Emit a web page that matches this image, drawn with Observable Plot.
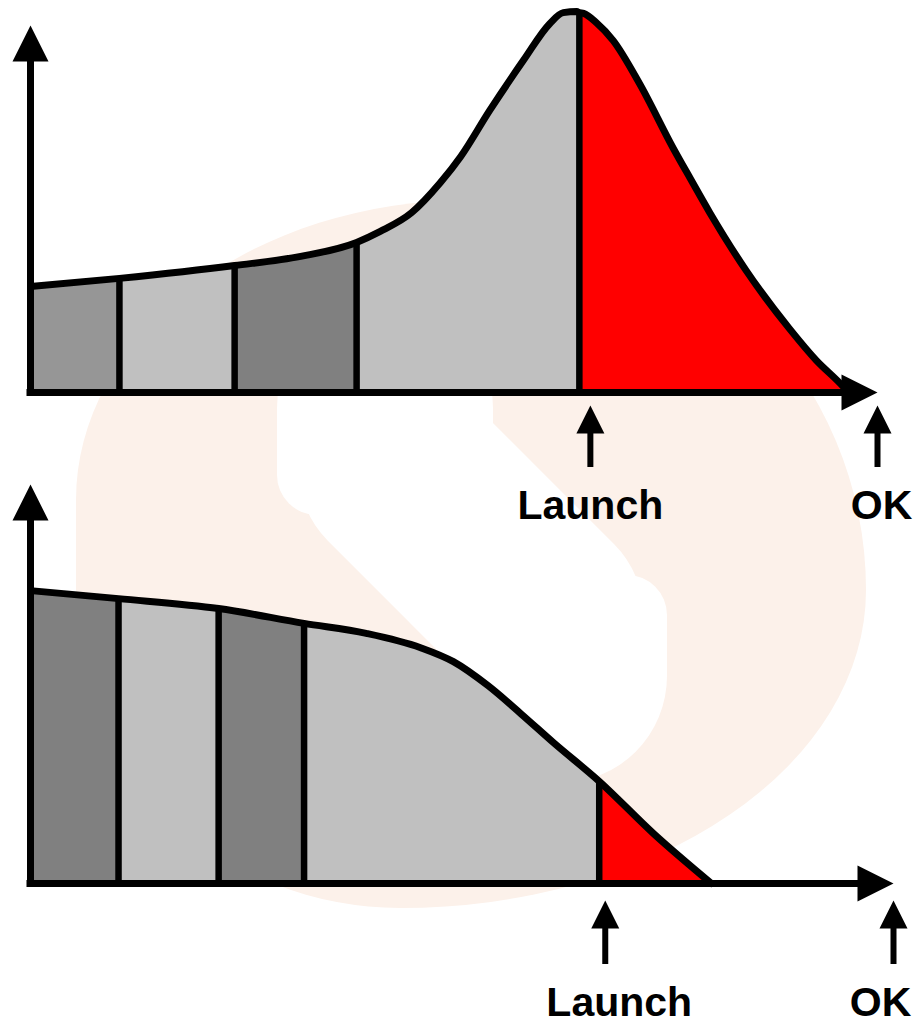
<!DOCTYPE html>
<html>
<head>
<meta charset="utf-8">
<script src="https://cdn.jsdelivr.net/npm/d3@7"></script>
<script src="https://cdn.jsdelivr.net/npm/@observablehq/plot@0.6"></script>
<style>
  html, body { margin: 0; padding: 0; background: #ffffff; overflow: hidden; }
  #wrap { position: relative; width: 916px; height: 1023px; overflow: hidden; }
  #wrap svg { position: absolute; left: 0; top: 0; }
  /* faint background watermark (decoration only) */
  .wm { position: absolute; }
  .wm-disc { left: 76px; top: 200px; width: 790px; height: 708px; background: #fcf1ea;
    border-radius: 394px 396px 466px 324px / 300px 390px 318px 308px; }
  .wm-gap { background: #ffffff; }
  .wm-gap1 { left: 277px; top: 300px; width: 216px; height: 215px; border-radius: 108px 108px 0 40px; }
  .wm-gap2 { left: 371px; top: 340px; width: 200px; height: 405px; border-radius: 100px; transform: rotate(-45deg); }
  .wm-gap3 { left: 453px; top: 575px; width: 214px; height: 208px; border-radius: 0 40px 107px 107px; }
</style>
</head>
<body>
<div id="wrap">
  <div class="wm wm-disc"></div>
  <div class="wm wm-gap wm-gap1"></div>
  <div class="wm wm-gap wm-gap2"></div>
  <div class="wm wm-gap wm-gap3"></div>
</div>
<script>
// ---------- Top chart: effort over time (peaks at launch) ----------
const topX = [0, 10.5, 24.1, 31.9, 38.5, 41.3, 45.0, 48.4, 50.8, 54.2, 58.2, 61.3, 62.9, 64.5, 64.8, 65.3, 66.8, 68.8, 71.9, 75.9, 77.9, 80.2, 84.5, 89.6, 92.8, 95.5, 96.6];
const topY = [28.9, 31.1, 34.6, 37.1, 40.9, 43.9, 49.0, 57.2, 64.3, 76.8, 90.5, 100.5, 103.5, 103.8, 103.5, 103.3, 100.8, 95.9, 84.2, 66.5, 58.3, 49.0, 33.2, 17.4, 8.7, 2.7, 0];
const topBreaks = [10.5, 24.1, 38.5, 64.8];
const topFills = ["#969696", "#c0c0c0", "#808080", "#c0c0c0", "#ff0000"];
const topMarkerX = [66.1, 100];
const topLabels = ["Launch", "OK"];

// ---------- Bottom chart: effort front-loaded ----------
const botX = [0, 10.2, 21.8, 31.7, 38.9, 45.2, 49.0, 53.0, 56.8, 60.6, 65.9, 72.2, 78.9];
const botY = [73.4, 71.4, 68.9, 65.2, 62.7, 59.1, 55.6, 49.6, 42.6, 35.3, 25.6, 12.5, 0];
const botBreaks = [10.2, 21.8, 31.7, 65.9];
const botFills = ["#808080", "#c0c0c0", "#808080", "#c0c0c0", "#ff0000"];
const botMarkerX = [66.6, 100];
const botLabels = ["Launch", "OK"];

// ---------- helpers ----------
function segmentRows(xs, ys, breaks, fills) {
  const edges = [xs[0], ...breaks, xs[xs.length - 1]];
  const out = [];
  for (let s = 0; s < fills.length; s++) {
    const a = edges[s], b = edges[s + 1];
    xs.forEach((x, i) => { if (x >= a && x <= b) out.push({x, y: ys[i], seg: s, fill: fills[s]}); });
  }
  return out;
}
// arrow heads with the tip at the anchor point
const headUp = {draw(c, size) { const h = Math.sqrt(size / Math.PI); c.moveTo(0, 0); c.lineTo(h / 2, h); c.lineTo(-h / 2, h); c.closePath(); }};
const headRight = {draw(c, size) { const h = Math.sqrt(size / Math.PI); c.moveTo(0, 0); c.lineTo(-h, h / 2); c.lineTo(-h, -h / 2); c.closePath(); }};
const FONT = "'Liberation Sans', Arial, Helvetica, sans-serif";

function chart(o) {
  const curve = o.xs.map((x, i) => ({x, y: o.ys[i]}));
  const lookup = (b) => o.ys[o.xs.indexOf(b)];
  const markers = o.markerX.map((x, i) => ({x, label: o.labels[i]}));
  return Plot.plot({
    width: 916, height: 1023,
    marginLeft: 30, marginRight: o.mr, marginTop: o.mt, marginBottom: o.mb,
    x: {domain: [0, 100], axis: null},
    y: {domain: [0, 100], axis: null},
    color: {type: "identity"},
    style: "background:transparent;overflow:visible;",
    marks: [
      Plot.area(segmentRows(o.xs, o.ys, o.breaks, o.fills), {x1: "x", y1: () => 0, y2: "y", z: "seg", fill: "fill", curve: "monotone-x"}),
      Plot.ruleX(o.breaks, {x: (d) => d, y1: () => 0, y2: lookup, stroke: "#000", strokeWidth: 6.5}),
      Plot.line(curve, {x: "x", y: "y", curve: "monotone-x", stroke: "#000", strokeWidth: 7, strokeLinejoin: "round", strokeLinecap: "round"}),
      // axes with arrow heads
      Plot.ruleX([0], {x: (d) => d, y1: () => 100, y2: () => 0, insetTop: 12, stroke: "#000", strokeWidth: 7, strokeLinecap: "square"}),
      Plot.ruleY([0], {y: (d) => d, x1: () => 0, x2: () => 100, insetRight: 12, stroke: "#000", strokeWidth: 7, strokeLinecap: "square"}),
      Plot.dot([0], {x: (d) => d, y: () => 100, symbol: headUp, r: 36, fill: "#000", stroke: "none"}),
      Plot.dot([0], {x: () => 100, y: (d) => d, symbol: headRight, r: 36, fill: "#000", stroke: "none"}),
      // milestone arrows
      Plot.ruleX(markers, {x: "x", y1: () => 0, y2: () => 0, insetTop: o.tip + 20, insetBottom: -o.stem, stroke: "#000", strokeWidth: 6}),
      Plot.dot(markers, {x: "x", y: () => 0, dy: o.tip, symbol: headUp, r: 28, fill: "#000", stroke: "none"}),
      ...markers.map((m, i) => Plot.text([m], {
        x: "x", y: () => 0, text: "label", dy: o.textDy, dx: o.textDx[i],
        lineAnchor: "bottom", textAnchor: "middle",
        fontSize: 41, fontWeight: "bold", fontFamily: FONT, fill: "#000"
      }))
    ]
  });
}

const wrap = document.getElementById("wrap");
wrap.appendChild(chart({
  xs: topX, ys: topY, breaks: topBreaks, fills: topFills, markerX: topMarkerX, labels: topLabels,
  mt: 25, mb: 1023 - 392, mr: 916 - 877, tip: 13, stem: 75, textDy: 126, textDx: [0, 4]
}));
wrap.appendChild(chart({
  xs: botX, ys: botY, breaks: botBreaks, fills: botFills, markerX: botMarkerX, labels: botLabels,
  mt: 484, mb: 1023 - 883, mr: 916 - 893, tip: 17, stem: 81, textDy: 132, textDx: [14, -13]
}));
</script>
</body>
</html>
